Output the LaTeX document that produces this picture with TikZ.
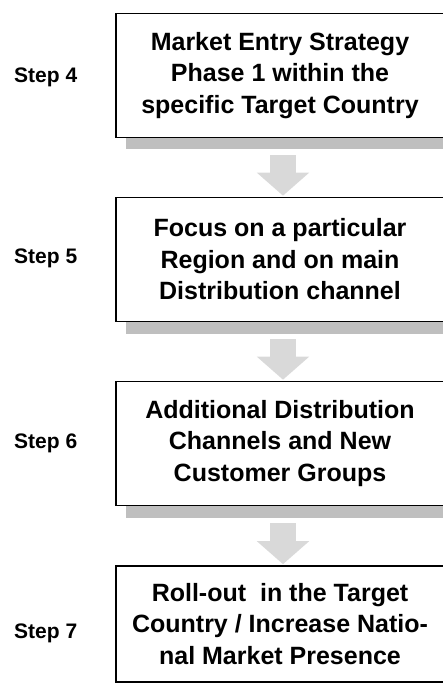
\documentclass[tikz,border=0pt]{standalone}
\usepackage{fontspec}
\setmainfont{Liberation Sans}
\usetikzlibrary{arrows.meta,shadows}

\tikzset{
  boxshadow/.style={drop shadow={shadow xshift=10pt,shadow yshift=-12pt,opacity=1,fill=black!25,draw=none}},
  grayarrow/.style={draw=black!15,line width=26pt,-{Triangle[width=51pt,length=23pt]},shorten >=1pt}
}

\begin{document}
\begin{tikzpicture}[x=1pt,y=1pt]
        \useasboundingbox (0,0) rectangle (443,-692);

        \begin{scope}[every node/.style={draw,fill=white,line width=1.6pt,minimum width=328pt,minimum height=124pt,align=center,font=\fontsize{25}{31.5}\selectfont\bfseries}]
        % Boxes
        \node[boxshadow] (b4) at (280,-75.5) {Market Entry Strategy\\Phase 1 within the\\specific Target Country};
        \node[boxshadow] (b5) at (280,-259.5) {Focus on a particular\\Region and on main\\Distribution channel};
        \node[boxshadow] (b6) at (280,-443.5) {Additional Distribution\\Channels and New\\Customer Groups};
        \node[minimum height=116pt] (b7) at (280,-624) {Roll-out\ \ in the Target\\Country / Increase Natio-\\nal Market Presence};
        \end{scope}

        \begin{scope}[every node/.style={anchor=base west,inner sep=0pt,font=\fontsize{21}{25}\selectfont\bfseries}]
        % Steps
        \node (s4) at (14,-83) {Step 4};
        \node (s5) at (14,-263) {Step 5};
        \node (s6) at (14,-448) {Step 6};
        \node (s7) at (14,-638) {Step 7};
        \end{scope}

        \draw[grayarrow] ([xshift=3pt,yshift=-17pt]b4.south) -- ([xshift=3pt]b5.north);
        \draw[grayarrow] ([xshift=3pt,yshift=-17pt]b5.south) -- ([xshift=3pt]b6.north);
        \draw[grayarrow] ([xshift=3pt,yshift=-17pt]b6.south) -- ([xshift=3pt]b7.north);

    \end{tikzpicture}
\end{document}
